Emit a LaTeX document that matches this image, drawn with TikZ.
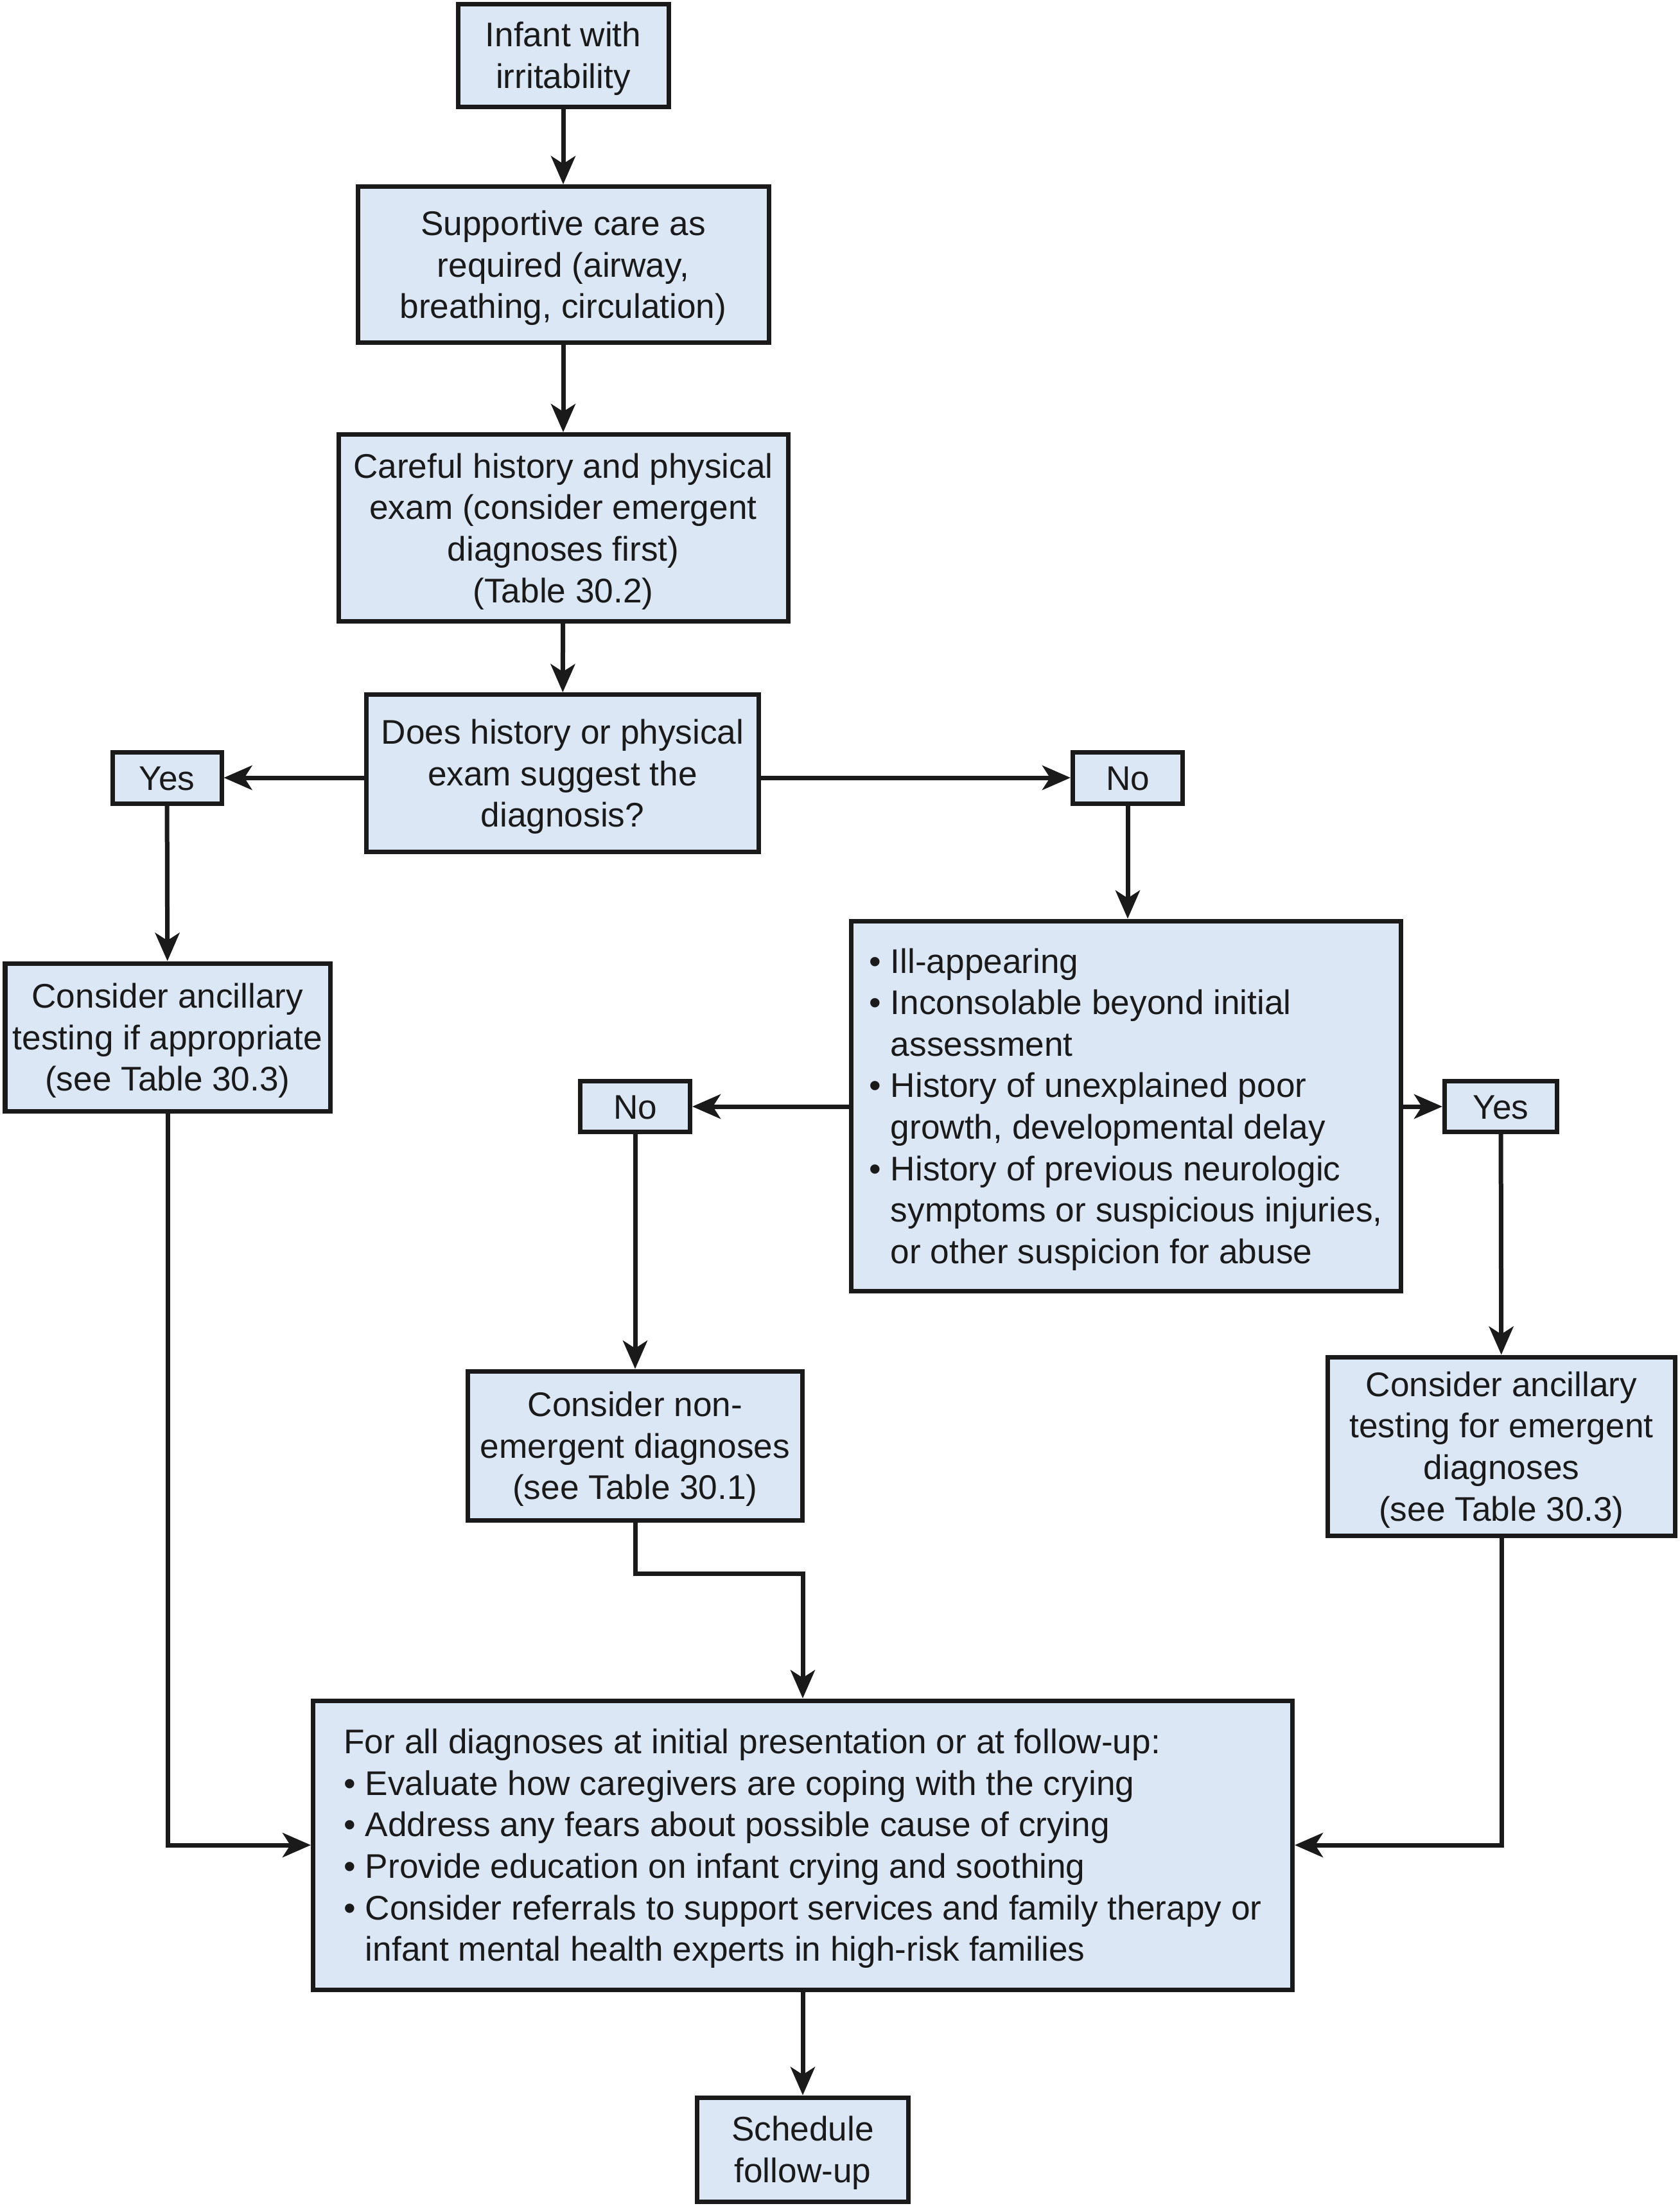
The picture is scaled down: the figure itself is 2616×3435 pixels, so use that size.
\documentclass[tikz,border=0pt]{standalone}
\usepackage{fontspec}
\setmainfont{Liberation Sans}
\usetikzlibrary{arrows.meta}
\definecolor{boxfill}{RGB}{220,231,246}
\definecolor{ink}{RGB}{26,26,26}
\newcommand\firststrut{\rule{0pt}{12.8bp}}
\newcommand\laststrut{\rule[-3.2bp]{0pt}{3.2bp}}
\begin{document}
\begin{tikzpicture}[x=0.25bp,y=-0.25bp,
  box/.style={draw=ink, line width=1.75bp, fill=boxfill, inner sep=0pt, align=center,
    text=ink, font=\fontsize{13.3bp}{16.15bp}\selectfont},
  sz/.style 2 args={minimum width={(#1-7)*0.25bp}, minimum height={(#2-7)*0.25bp}},
  arr/.style={draw=ink, line width=1.75bp, -{Stealth[length=11bp,width=9.5bp,inset=3bp]}},
]
\useasboundingbox (0,0) rectangle (2616,3435);
\node[box, sz={335}{167}] (inf) at (877,86) {\firststrut Infant with\\irritability\laststrut};
\node[box, sz={647}{250}] (sup) at (877,412) {\firststrut Supportive care as\\required (airway,\\breathing, circulation)\laststrut};
\node[box, sz={707}{298}] (car) at (877,822) {\firststrut Careful history and physical\\exam (consider emergent\\diagnoses first)\\(Table 30.2)\laststrut};
\node[box, sz={618}{252}] (does) at (876,1204) {\firststrut Does history or physical\\exam suggest the\\diagnosis?\laststrut};
\node[box, sz={177}{87}] (yesL) at (260,1211) {\firststrut Yes\laststrut};
\node[box, sz={178}{87}] (noR) at (1756,1211) {\firststrut No\laststrut};
\node[box, sz={513}{237}] (ancL) at (261,1615) {\firststrut Consider ancillary\\testing if appropriate\\(see Table 30.3)\laststrut};
\node[box, sz={863}{583}, align=left] (bul) at (1753,1722) {\firststrut\textbullet\ Ill-appearing\\
\textbullet\ Inconsolable beyond initial\\
\phantom{\textbullet\ }assessment\\
\textbullet\ History of unexplained poor\\
\phantom{\textbullet\ }growth, developmental delay\\
\textbullet\ History of previous neurologic\\
\phantom{\textbullet\ }symptoms or suspicious injuries,\\
\phantom{\textbullet\ }or other suspicion for abuse\laststrut};
\node[box, sz={178}{86}] (noM) at (989,1723) {\firststrut No\laststrut};
\node[box, sz={182}{86}] (yesR) at (2337,1723) {\firststrut Yes\laststrut};
\node[box, sz={528}{239}] (nonem) at (989,2251) {\firststrut Consider non-\\emergent diagnoses\\(see Table 30.1)\laststrut};
\node[box, sz={548}{285}] (em) at (2338,2252) {\firststrut Consider ancillary\\testing for emergent\\diagnoses\\(see Table 30.3)\laststrut};
\node[box, sz={1532}{457}, align=left] (all) at (1250,2873) {\firststrut For all diagnoses at initial presentation or at follow-up:\\
\textbullet\ Evaluate how caregivers are coping with the crying\\
\textbullet\ Address any fears about possible cause of crying\\
\textbullet\ Provide education on infant crying and soothing\\
\textbullet\ Consider referrals to support services and family therapy or\\
\phantom{\textbullet\ }infant mental health experts in high-risk families\laststrut};
\node[box, sz={336}{169}] (sch) at (1250,3347) {\firststrut Schedule\\follow-up\laststrut};
\coordinate (j1) at (1250,2450);
\draw[arr] (inf) -- (sup);
\draw[arr] (sup) -- (car);
\draw[arr] (car) -- (does);
\draw[arr] (does.west |- yesL) -- (yesL.east);
\draw[arr] (does.east |- noR) -- (noR.west);
\draw[arr] (yesL) -- (ancL);
\draw[arr] (noR.south) -- (noR.south |- bul.north);
\draw[arr] (bul.west |- noM) -- (noM.east);
\draw[arr] (bul.east |- yesR) -- (yesR.west);
\draw[arr] (noM) -- (nonem);
\draw[arr] (yesR) -- (em);
\draw[arr] (nonem.south) |- (j1) -- (all.north);
\draw[arr] (ancL.south) |- (all.west);
\draw[arr] (em.south) |- (all.east);
\draw[arr] (all) -- (sch);
\end{tikzpicture}
\end{document}
